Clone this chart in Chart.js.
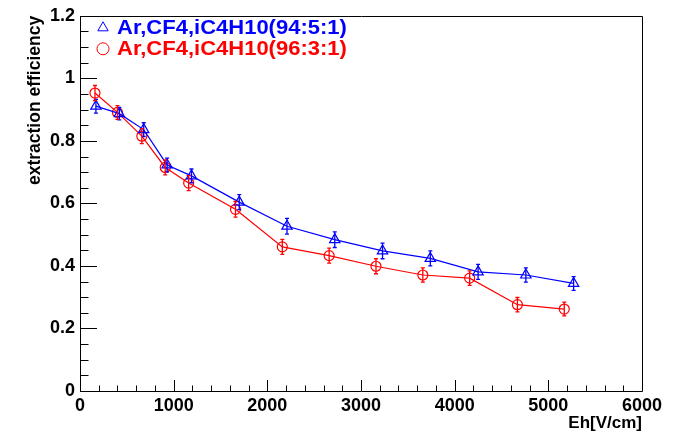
<!DOCTYPE html>
<html>
<head>
<meta charset="utf-8">
<script src="https://cdn.jsdelivr.net/npm/chart.js@4/dist/chart.umd.min.js"></script>
<style>
  body { margin: 0; background: #fff; }
  #wrap { width: 675px; height: 432px; }
</style>
</head>
<body>
<div id="wrap"><canvas id="effChart" width="675" height="432"></canvas></div>
<script>
// Data
const blueLabel = 'Ar,CF4,iC4H10(94:5:1)';
const blueX = [170, 420, 680, 930, 1190, 1700, 2210, 2720, 3230, 3740, 4250, 4760, 5270];
const blueY = [0.911, 0.887, 0.836, 0.723, 0.688, 0.604, 0.527, 0.484, 0.448, 0.424, 0.381, 0.371, 0.344];
const blueErr = [0.022, 0.020, 0.022, 0.022, 0.022, 0.024, 0.025, 0.025, 0.025, 0.024, 0.024, 0.023, 0.022];

const redLabel = 'Ar,CF4,iC4H10(96:3:1)';
const redX = [160, 400, 660, 910, 1160, 1660, 2160, 2660, 3160, 3660, 4160, 4670, 5170];
const redY = [0.953, 0.891, 0.815, 0.715, 0.665, 0.581, 0.461, 0.433, 0.399, 0.371, 0.361, 0.276, 0.262];
const redErr = [0.024, 0.022, 0.024, 0.024, 0.024, 0.025, 0.024, 0.024, 0.024, 0.023, 0.023, 0.023, 0.022];

const xTicks = [0, 1000, 2000, 3000, 4000, 5000, 6000];
const yTicks = [0, 0.2, 0.4, 0.6, 0.8, 1, 1.2];

const FONT = "'Liberation Sans', Arial, sans-serif";

function toPoints(xs, ys) {
    return xs.map((x, i) => ({ x: x, y: ys[i] }));
}

// ROOT style inward ticks + frame
const frameTicks = {
    id: 'frameTicks',
    afterDraw(chart) {
        const ctx = chart.ctx;
        const a = chart.chartArea;
        const xs = chart.scales.x, ys = chart.scales.y;
        ctx.save();
        ctx.strokeStyle = '#000';
        ctx.lineWidth = 1;
        ctx.beginPath();
        ctx.rect(Math.round(a.left) + 0.5, Math.round(a.top) + 0.5, Math.round(a.right - a.left), Math.round(a.bottom - a.top));
        ctx.stroke();
        ctx.beginPath();
        for (let v = 0; v <= 6000; v += 200) {
            const px = Math.round(xs.getPixelForValue(v)) + 0.5;
            const len = v % 1000 === 0 ? 11 : 5.5;
            ctx.moveTo(px, a.bottom);
            ctx.lineTo(px, a.bottom - len);
        }
        for (let k = 0; k <= 24; k++) {
            const py = Math.round(ys.getPixelForValue(k * 0.05)) + 0.5;
            const len = k % 4 === 0 ? 17 : 8.5;
            ctx.moveTo(a.left, py);
            ctx.lineTo(a.left + len, py);
        }
        ctx.stroke();
        ctx.restore();
    }
};

// vertical error bars with small caps
const errorBars = {
    id: 'errorBars',
    afterDatasetsDraw(chart) {
        const ctx = chart.ctx;
        const xs = chart.scales.x, ys = chart.scales.y;
        chart.data.datasets.forEach(ds => {
            ctx.save();
            ctx.strokeStyle = ds.borderColor;
            ctx.lineWidth = 1.3;
            ds.data.forEach((p, i) => {
                const px = xs.getPixelForValue(p.x);
                const top = ys.getPixelForValue(p.y + ds.errors[i]);
                const bot = ys.getPixelForValue(p.y - ds.errors[i]);
                ctx.beginPath();
                ctx.moveTo(px, top);
                ctx.lineTo(px, bot);
                ctx.moveTo(px - 2, top);
                ctx.lineTo(px + 2, top);
                ctx.moveTo(px - 2, bot);
                ctx.lineTo(px + 2, bot);
                ctx.stroke();
            });
            ctx.restore();
        });
    }
};

// legend box drawn inside the plot, top left
const insideLegend = {
    id: 'insideLegend',
    afterDraw(chart) {
        const ctx = chart.ctx;
        const a = chart.chartArea;
        chart.data.datasets.forEach((ds, i) => {
            const y = a.top + 12 + i * 21;
            ctx.save();
            ctx.strokeStyle = ds.borderColor;
            ctx.fillStyle = 'rgba(0,0,0,0)';
            Chart.helpers.drawPoint(ctx, {
                pointStyle: ds.pointStyle,
                radius: 6,
                rotation: 0,
                borderWidth: 1.2
            }, a.left + 23, y);
            ctx.restore();

            ctx.save();
            ctx.fillStyle = ds.borderColor;
            ctx.font = 'bold 20px ' + FONT;
            ctx.textBaseline = 'middle';
            ctx.translate(a.left + 37, y + 1);
            ctx.scale(1.1, 1);
            ctx.fillText(ds.label, 0, 0);
            ctx.restore();
        });
    }
};

new Chart(document.getElementById('effChart'), {
    type: 'line',
    data: {
        datasets: [
            {
                label: blueLabel,
                data: toPoints(blueX, blueY),
                errors: blueErr,
                borderColor: '#0000ff',
                backgroundColor: 'rgba(0,0,0,0)',
                borderWidth: 1.2,
                pointStyle: 'triangle',
                pointRadius: 6,
                pointBorderWidth: 1.2,
                pointBackgroundColor: 'rgba(0,0,0,0)',
                tension: 0
            },
            {
                label: redLabel,
                data: toPoints(redX, redY),
                errors: redErr,
                borderColor: '#ff0000',
                backgroundColor: 'rgba(0,0,0,0)',
                borderWidth: 1.2,
                pointStyle: 'circle',
                pointRadius: 5,
                pointBorderWidth: 1.2,
                pointBackgroundColor: 'rgba(0,0,0,0)',
                tension: 0
            }
        ]
    },
    options: {
        responsive: false,
        animation: false,
        layout: { padding: { top: 13, right: 33, left: 0, bottom: 0 } },
        plugins: {
            legend: { display: false },
            tooltip: { enabled: false }
        },
        scales: {
            x: {
                type: 'linear',
                min: 0,
                max: 6000,
                afterFit: s => { s.height = 41; },
                afterBuildTicks: s => { s.ticks = xTicks.map(v => ({ value: v })); },
                grid: { display: false, drawTicks: false },
                border: { display: false },
                ticks: {
                    padding: 4,
                    color: '#000',
                    maxRotation: 0,
                    autoSkip: false,
                    font: { family: FONT, size: 18, weight: 'bold' },
                    callback: v => String(v)
                },
                title: {
                    display: true,
                    text: 'Eh[V/cm]',
                    align: 'end',
                    color: '#000',
                    padding: { top: 0, bottom: 0 },
                    font: { family: FONT, size: 17, weight: 'bold', lineHeight: 1 }
                }
            },
            y: {
                type: 'linear',
                min: 0,
                max: 1.2,
                afterFit: s => { s.width = 80; },
                afterBuildTicks: s => { s.ticks = yTicks.map(v => ({ value: v })); },
                grid: { display: false, drawTicks: false },
                border: { display: false },
                ticks: {
                    padding: 5,
                    color: '#000',
                    autoSkip: false,
                    font: { family: FONT, size: 18, weight: 'bold' },
                    callback: v => String(Number(v.toFixed(1)))
                },
                title: {
                    display: true,
                    text: 'extraction efficiency',
                    align: 'end',
                    color: '#000',
                    padding: { top: 25, bottom: 0 },
                    font: { family: FONT, size: 17.5, weight: 'bold' }
                }
            }
        }
    },
    plugins: [frameTicks, errorBars, insideLegend]
});
</script>
</body>
</html>
